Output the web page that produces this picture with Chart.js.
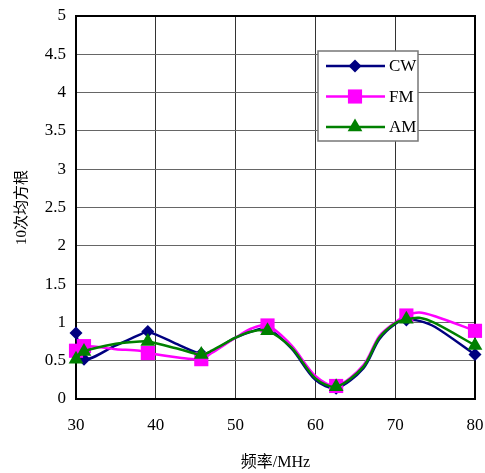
<!DOCTYPE html>
<html>
<head>
<meta charset="utf-8">
<script src="https://cdn.jsdelivr.net/npm/chart.js@4.4.1/dist/chart.umd.min.js"></script>
<style>
  html, body { margin: 0; padding: 0; background: #fff; }
  #wrap { width: 485px; height: 473px; }
</style>
</head>
<body>
<div id="wrap"><canvas id="chart" width="485" height="473"></canvas></div>
<script>
// frequencies (MHz), markers only at some of them
const freq = [30, 31, 35, 38, 39, 43, 45.7, 47, 50, 52, 54, 57, 60, 62.6, 66, 68, 70, 71.4, 73, 75, 80]
const markerFreq = [30, 31, 39, 45.7, 54, 62.6, 71.4, 80]

const cwValues = [0.86, 0.52, 0.70, 0.84, 0.88, 0.70, 0.59, 0.62, 0.80, 0.88, 0.92, 0.66, 0.25, 0.14, 0.40, 0.78, 0.98, 1.03, 1.02, 0.94, 0.58]
const fmValues = [0.63, 0.69, 0.65, 0.63, 0.60, 0.54, 0.52, 0.60, 0.80, 0.92, 0.96, 0.70, 0.30, 0.17, 0.44, 0.82, 1.00, 1.09, 1.13, 1.08, 0.89]
const amValues = [0.52, 0.62, 0.72, 0.75, 0.75, 0.65, 0.58, 0.63, 0.80, 0.88, 0.89, 0.67, 0.27, 0.16, 0.42, 0.80, 0.99, 1.04, 1.06, 0.99, 0.70]

const seriesNames = ['CW', 'FM', 'AM']
const seriesColors = ['#000080', '#ff00ff', '#008000']

const xTitle = '频率/MHz'
const yTitle = '10次均方根'

const serif = "'Liberation Serif', 'Times New Roman', 'Noto Sans CJK SC', serif"

function toPoints(values) {
  return values.map((v, i) => ({ x: freq[i], y: v }))
}

function markerRadius(r) {
  return (ctx) => markerFreq.includes(freq[ctx.dataIndex]) ? r : 0
}

const data = {
  datasets: [
    {
      label: seriesNames[0],
      data: toPoints(cwValues),
      borderColor: seriesColors[0],
      backgroundColor: seriesColors[0],
      pointStyle: 'rectRot',
      pointRadius: markerRadius(6.5),
      order: 3
    },
    {
      label: seriesNames[1],
      data: toPoints(fmValues),
      borderColor: seriesColors[1],
      backgroundColor: seriesColors[1],
      pointStyle: 'rect',
      pointRadius: markerRadius(10),
      order: 2
    },
    {
      label: seriesNames[2],
      data: toPoints(amValues),
      borderColor: seriesColors[2],
      backgroundColor: seriesColors[2],
      pointStyle: 'triangle',
      pointRadius: markerRadius(8.5),
      order: 1
    }
  ]
}

// black frame round the plot area
const framePlugin = {
  id: 'frame',
  beforeDatasetsDraw(chart) {
    const a = chart.chartArea
    const ctx = chart.ctx
    ctx.save()
    ctx.strokeStyle = '#000'
    ctx.lineWidth = 2
    ctx.strokeRect(a.left, a.top, a.right - a.left, a.bottom - a.top)
    ctx.restore()
  }
}

function drawMarker(ctx, style, x, y, r) {
  ctx.beginPath()
  if (style === 'rectRot') {
    ctx.moveTo(x, y - r); ctx.lineTo(x + r, y); ctx.lineTo(x, y + r); ctx.lineTo(x - r, y)
  } else if (style === 'rect') {
    const s = r * Math.SQRT1_2
    ctx.rect(x - s, y - s, 2 * s, 2 * s)
  } else {
    const h = r * Math.sqrt(3) / 2
    ctx.moveTo(x, y - r); ctx.lineTo(x + h, y + r / 2); ctx.lineTo(x - h, y + r / 2)
  }
  ctx.closePath()
  ctx.fill()
}

// boxed legend with line + marker, like the original
const legendPlugin = {
  id: 'boxLegend',
  afterDraw(chart) {
    const ctx = chart.ctx
    const box = { x: 318, y: 51, w: 100, h: 90 }
    ctx.save()
    ctx.fillStyle = '#fff'
    ctx.fillRect(box.x, box.y, box.w, box.h)
    ctx.strokeStyle = '#777'
    ctx.lineWidth = 1.5
    ctx.strokeRect(box.x, box.y, box.w, box.h)
    const styles = ['rectRot', 'rect', 'triangle']
    const radii = [6.5, 10, 8.5]
    chart.data.datasets.forEach((ds, i) => {
      const y = box.y + 15 + i * 30.5
      ctx.strokeStyle = ds.borderColor
      ctx.fillStyle = ds.borderColor
      ctx.lineWidth = 2.5
      ctx.beginPath()
      ctx.moveTo(box.x + 8, y)
      ctx.lineTo(box.x + 67, y)
      ctx.stroke()
      drawMarker(ctx, styles[i], box.x + 37, y, radii[i])
      ctx.fillStyle = '#000'
      ctx.font = '17px ' + serif
      ctx.textBaseline = 'middle'
      ctx.fillText(ds.label, box.x + 71, y + 1)
    })
    ctx.restore()
  }
}

const config = {
  type: 'line',
  data: data,
  plugins: [framePlugin, legendPlugin],
  options: {
    responsive: false,
    animation: false,
    events: [],
    devicePixelRatio: 1,
    layout: {
      padding: { top: 16, right: 7, left: 0, bottom: 0 }
    },
    elements: {
      line: { borderWidth: 2.5, tension: 0.3 },
      point: { borderWidth: 0 }
    },
    datasets: {
      line: { clip: false, fill: false }
    },
    plugins: {
      legend: { display: false },
      tooltip: { enabled: false }
    },
    scales: {
      x: {
        type: 'linear',
        min: 30,
        max: 80,
        afterFit(scale) {
          scale.height = 74
          scale.paddingLeft = 0
          scale.paddingRight = 0
        },
        ticks: {
          stepSize: 10,
          padding: 16,
          color: '#000',
          font: { family: serif, size: 17 }
        },
        grid: { color: '#333', lineWidth: 1, drawTicks: false },
        border: { color: '#000', width: 2 },
        title: {
          display: true,
          text: xTitle,
          color: '#000',
          font: { family: serif, size: 16 },
          padding: { top: 0, bottom: 1 }
        }
      },
      y: {
        min: 0,
        max: 5,
        afterFit(scale) {
          scale.width = 76
          scale.paddingTop = 0
          scale.paddingBottom = 0
        },
        ticks: {
          stepSize: 0.5,
          padding: 10,
          color: '#000',
          font: { family: serif, size: 17 },
          callback: (v) => String(v)
        },
        grid: { color: '#666', lineWidth: 1, drawTicks: false },
        border: { color: '#000', width: 2 },
        title: {
          display: true,
          text: yTitle,
          color: '#000',
          font: { family: serif, size: 15 },
          padding: { top: 13, bottom: 0 }
        }
      }
    }
  }
}

const myChart = new Chart(document.getElementById('chart'), config)
</script>
</body>
</html>
